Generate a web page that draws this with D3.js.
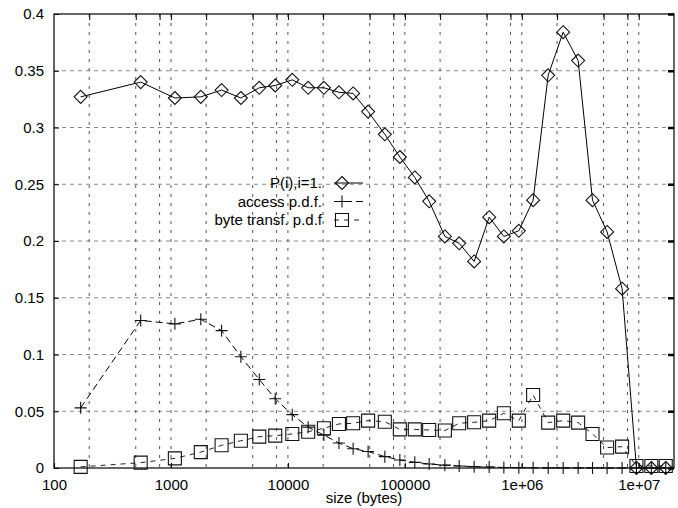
<!DOCTYPE html>
<html>
<head>
<meta charset="utf-8">
<script src="https://cdn.jsdelivr.net/npm/d3@7"></script>
<style>
  body { margin: 0; background: #fff; }
  svg { font-family: "Liberation Sans", Arial, sans-serif; }
</style>
</head>
<body>
<svg class="chart" width="678" height="508"></svg>
<script>
// bin sizes (bytes)
const sizes = [169, 551, 1080, 1800, 2710, 3960, 5690, 7790, 10900, 14900, 20300, 27300, 36100,
  48500, 67400, 90600, 121600, 161300, 219800, 291300, 391000, 525700, 701900, 942500,
  1249000, 1680000, 2256000, 3030000, 4020000, 5360000, 7200000, 9550000, 12800000, 17000000]

const pOne = [0.327, 0.340, 0.326, 0.327, 0.333, 0.326, 0.335, 0.337, 0.342, 0.335, 0.335, 0.331, 0.330,
  0.314, 0.294, 0.274, 0.256, 0.235, 0.204, 0.198, 0.182, 0.221, 0.204, 0.209,
  0.236, 0.346, 0.384, 0.359, 0.236, 0.208, 0.158, 0, 0, 0]

const accessPdf = [0.053, 0.130, 0.127, 0.131, 0.121, 0.098, 0.078, 0.061, 0.047, 0.036, 0.029, 0.022, 0.017,
  0.0145, 0.010, 0.007, 0.005, 0.0035, 0.0025, 0.0018, 0.0012, 0.0008, 0.0005, 0.0003,
  0.0002, 0.0001, 0.0001, 0.0001, 0.0001, 0, 0, 0, 0, 0]

const bytePdf = [0.001, 0.0047, 0.0085, 0.014, 0.020, 0.024, 0.0276, 0.0285, 0.030, 0.032, 0.035, 0.0388, 0.0394,
  0.0417, 0.0408, 0.034, 0.034, 0.0335, 0.033, 0.0394, 0.0403, 0.0417, 0.0482, 0.0417,
  0.0643, 0.040, 0.0417, 0.040, 0.030, 0.018, 0.0188, 0.0018, 0.0018, 0.0018]

const yTicks = [0, 0.05, 0.1, 0.15, 0.2, 0.25, 0.3, 0.35, 0.4]
const xTicks = [100, 1e3, 1e4, 1e5, 1e6, 1e7]
const xTickLabels = ['100', '1000', '10000', '100000', '1e+06', '1e+07']
const xGrid = [200, 500, 800, 1e3, 2e3, 5e3, 8e3, 1e4, 2e4, 5e4, 8e4, 1e5,
  2e5, 5e5, 8e5, 1e6, 2e6, 5e6, 8e6, 1e7]

const seriesNames = ['P(i),i=1.', 'access p.d.f.', 'byte transf. p.d.f']

const m = {left: 54, right: 674, top: 14, bottom: 468}

const x = d3.scaleLog([100, 2e7], [m.left, m.right])
const y = d3.scaleLinear([0, 0.4], [m.bottom, m.top])

const svg = d3.select('.chart')

// grid
svg.append('g')
  .selectAll('line')
  .data(yTicks.slice(1, -1))
  .join('line')
    .attr('x1', m.left).attr('x2', m.right)
    .attr('y1', d => y(d)).attr('y2', d => y(d))
    .attr('stroke', '#888')
    .attr('stroke-dasharray', '4,4')

svg.append('g')
  .selectAll('line')
  .data(xGrid)
  .join('line')
    .attr('x1', d => x(d)).attr('x2', d => x(d))
    .attr('y1', m.top).attr('y2', m.bottom)
    .attr('stroke', '#555')
    .attr('stroke-dasharray', '3,6')

// axes, ticks inward like gnuplot
const yAxis = d3.axisLeft(y)
  .tickValues(yTicks)
  .tickFormat(d => String(+d.toFixed(2)))
  .tickSize(-5)
  .tickPadding(10)
svg.append('g')
  .attr('transform', `translate(${m.left},0)`)
  .call(yAxis)
  .call(g => g.select('.domain').remove())

const yAxisRight = d3.axisRight(y).tickValues(yTicks).tickSize(-6).tickFormat('')
svg.append('g')
  .attr('transform', `translate(${m.right},0)`)
  .call(yAxisRight)
  .call(g => g.selectAll('.tick line').attr('stroke-width', 2.5))
  .call(g => g.select('.domain').remove())

const xAxis = d3.axisBottom(x)
  .tickValues(xTicks)
  .tickFormat((d, i) => xTickLabels[i])
  .tickSize(-5)
  .tickPadding(11)
svg.append('g')
  .attr('transform', `translate(0,${m.bottom})`)
  .call(xAxis)
  .call(g => g.select('.domain').remove())

const xAxisTop = d3.axisTop(x).tickValues(xGrid).tickSize(-6).tickFormat('')
svg.append('g')
  .attr('transform', `translate(0,${m.top})`)
  .call(xAxisTop)
  .call(g => g.select('.domain').remove())

svg.selectAll('.tick text').attr('font-size', 15).attr('font-family', '"Liberation Sans", Arial, sans-serif').attr('fill', '#000')

// border
svg.append('rect')
  .attr('x', m.left).attr('y', m.top)
  .attr('width', m.right - m.left).attr('height', m.bottom - m.top)
  .attr('fill', 'none')
  .attr('stroke', '#000')
  .attr('stroke-width', 1.2)

svg.append('text')
  .text('size (bytes)')
  .attr('x', (m.left + m.right) / 2)
  .attr('y', 503)
  .attr('text-anchor', 'middle')
  .attr('font-size', 15)

// series
const diamond = 'M0,-6.5L6.5,0L0,6.5L-6.5,0Z'
const plus = 'M-6,0H6M0,-6V6'
const square = 'M-6.5,-6.5H6.5V6.5H-6.5Z'

const series = [
  {name: seriesNames[0], values: pOne, dash: null, color: '#000', mark: diamond},
  {name: seriesNames[1], values: accessPdf, dash: '7,4', color: '#000', mark: plus},
  {name: seriesNames[2], values: bytePdf, dash: '5,5', color: '#222', mark: square}
]

const line = d3.line()
  .x((d, i) => x(sizes[i]))
  .y(d => y(d))

series.forEach(s => {
  svg.append('path')
    .attr('d', line(s.values))
    .attr('fill', 'none')
    .attr('stroke', s.color)
    .attr('stroke-width', 1)
    .attr('stroke-dasharray', s.dash)

  svg.append('g')
    .selectAll('path')
    .data(s.values)
    .join('path')
      .attr('transform', (d, i) => `translate(${x(sizes[i])},${y(d)})`)
      .attr('d', s.mark)
      .attr('fill', 'none')
      .attr('stroke', '#111')
      .attr('stroke-width', 1.1)
})

// legend
const legend = svg.append('g')
  .selectAll('g')
  .data(series)
  .join('g')
    .attr('transform', (d, i) => `translate(0,${183 + i * 18.5})`)

legend.append('text')
  .text(d => d.name)
  .attr('x', 322)
  .attr('dy', '0.35em')
  .attr('text-anchor', 'end')
  .attr('font-size', 15)

legend.append('line')
  .attr('x1', 334).attr('x2', 363)
  .attr('stroke', d => d.color)
  .attr('stroke-dasharray', d => d.dash)

legend.append('path')
  .attr('transform', 'translate(342,0)')
  .attr('d', d => d.mark)
  .attr('fill', 'none')
  .attr('stroke', '#111')
  .attr('stroke-width', 1.1)
</script>
</body>
</html>
